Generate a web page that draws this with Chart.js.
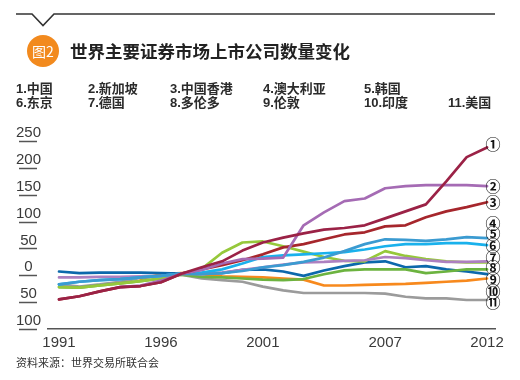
<!DOCTYPE html>
<html><head><meta charset="utf-8">
<script src="https://cdn.jsdelivr.net/npm/chart.js@4.4.1/dist/chart.umd.min.js"></script>
<style>
html,body{margin:0;padding:0;background:#fff;}
#wrap{position:relative;width:520px;height:380px;overflow:hidden;font-family:"Liberation Sans","Noto Sans CJK SC",sans-serif;}
canvas{position:absolute;left:0;top:0;}
.t{position:absolute;white-space:nowrap;}
.lg{font-weight:bold;font-size:13px;color:#2b2b2b;line-height:14px;}
</style></head><body>
<div id="wrap">
<canvas id="c" width="520" height="380"></canvas>
<svg class="t" style="left:0;top:0" width="520" height="40"><polyline points="16,14 32,14 43,25.5 54,14 495,14" fill="none" stroke="#333" stroke-width="1.6"/></svg>
<div class="t" style="left:27px;top:35px;width:32px;height:32px;border-radius:50%;background:#f28a1e;color:#fff;font-size:14px;line-height:32px;text-align:center;font-family:'Noto Sans CJK SC',sans-serif;">图2</div>
<div class="t" style="left:70px;top:40px;font-size:17.5px;line-height:22px;font-weight:bold;color:#222;font-family:'Noto Sans CJK SC',sans-serif;">世界主要证券市场上市公司数量变化</div>
<div id="legend"></div>
<div class="t" style="left:16px;top:355px;font-size:11px;line-height:14px;color:#333;font-family:'Noto Sans CJK SC',sans-serif;">资料来源：世界交易所联合会</div>
</div>
<script>
const years = [1991,1992,1993,1994,1995,1996,1997,1998,1999,2000,2001,2002,2003,2004,2005,2006,2007,2008,2009,2010,2011,2012];
const xTickYears = [1991,1996,2001,2007,2012];
const seriesNames = ["中国","新加坡","中国香港","澳大利亚","韩国","东京","德国","多伦多","伦敦","印度","美国"];

const crimson     = [-45,-39,-30,-22,-20,-13,3,15,26,46,61,70,78,85,88,93,106,119,132,175,220,238];
const violet      = [null,null,null,-22,-19,-10,3,10,22,30,31,33,93,117,138,143,162,166,168,168,168,166];
const darkRed     = [-45,-39,-30,-22,-20,-13,3,11,19,28,39,52,58,67,76,80,91,93,108,119,127,136];
const blueTeal    = [-17,-12,-9,-7,-4,-1,3,2,4,8,15,19,25,33,45,58,67,66,64,67,71,69];
const cyan        = [-17,-12,-9,-7,-4,-1,3,5,11,22,34,37,39,41,43,48,54,58,58,60,60,56];
const lightPurple = [-4,-4,-3,-3,-2,-1,3,2,5,10,15,20,24,25,27,28,34,32,28,25,25,26];
const yellowGreen = [-22,-23,-19,-15,-11,-6,3,12,42,61,63,54,44,34,27,26,45,36,30,26,24,24];
const green       = [-22,-23,-19,-15,-11,-6,1,-3,-4,-6,-8,-9,-7,2,9,11,11,11,4,7,11,11];
const darkBlue    = [7,4,5,5,5,4,3,4,4,10,11,7,-1,9,17,24,26,15,17,11,7,2];
const orange      = [null,null,null,null,-7,2,4,2,-2,-3,-4,-6,-8,-19,-19,-18,-17,-16,-14,-12,-10,-6];
const gray        = [-17,-21,-17,-12,-5,-1,1,-6,-9,-12,-21,-28,-33,-33,-33,-33,-34,-40,-43,-43,-46,-46];

const endMarks = ["①","②","③","④","⑤","⑥","⑦","⑧","⑨","⑩","⑪"];
const endMarkValues = [244,166,136,97,78,56,34,14,-7,-30,-50];

const seriesList = [
  {name:seriesNames[0], data:crimson, color:'#9b2246'},
  {name:seriesNames[1], data:violet, color:'#a56bb4'},
  {name:seriesNames[2], data:darkRed, color:'#a6262c'},
  {name:seriesNames[3], data:blueTeal, color:'#3b9bd1'},
  {name:seriesNames[4], data:cyan, color:'#19b1ec'},
  {name:seriesNames[5], data:lightPurple, color:'#ad80c0'},
  {name:seriesNames[6], data:yellowGreen, color:'#96c83b'},
  {name:seriesNames[7], data:green, color:'#6cb33f'},
  {name:seriesNames[8], data:darkBlue, color:'#0c68ab'},
  {name:seriesNames[9], data:orange, color:'#f7891d'},
  {name:seriesNames[10], data:gray, color:'#9b9b9b'}
];

// HTML legend list
const colX = [16,88,170,263,364,448];
const lg = document.getElementById('legend');
seriesNames.forEach((n,i)=>{
  const d = document.createElement('div');
  d.className = 't lg';
  const row = i < 5 ? 0 : 1;
  const col = i < 5 ? i : i - 5;
  d.style.left = colX[col] + 'px';
  d.style.top = (row === 0 ? 82 : 96) + 'px';
  d.textContent = (i+1) + '.' + n;
  lg.appendChild(d);
});

const decor = {
  id:'decor',
  afterDraw(chart){
    const ctx = chart.ctx, ys = chart.scales.y;
    ctx.save();
    ctx.strokeStyle = '#555'; ctx.lineWidth = 1.5;
    ys.ticks.forEach(t=>{
      const py = Math.round(ys.getPixelForValue(t.value)) + 0.5;
      ctx.beginPath(); ctx.moveTo(19, py); ctx.lineTo(37, py); ctx.stroke();
    });
    ctx.fillStyle = '#111';
    ctx.font = 'bold 15px "Noto Sans CJK SC"';
    ctx.textAlign = 'center'; ctx.textBaseline = 'middle';
    endMarks.forEach((m,i)=>{
      ctx.fillText(m, 493, ys.getPixelForValue(endMarkValues[i]));
    });
    ctx.restore();
  }
};

const tickFont = {family:'"Liberation Sans", Arial, sans-serif', size:15};
new Chart(document.getElementById('c'), {
  type:'line',
  data:{
    labels: years,
    datasets: seriesList.map(s=>({label:s.name, data:s.data, borderColor:s.color, backgroundColor:s.color, fill:false}))
  },
  options:{
    responsive:false, animation:false, devicePixelRatio:1,
    layout:{padding:{left:0,right:25,top:141,bottom:0}},
    plugins:{legend:{display:false}, tooltip:{enabled:false}},
    elements:{point:{radius:0}, line:{borderWidth:2.7, tension:0, borderCapStyle:'round', borderJoinStyle:'round'}},
    scales:{
      x:{
        type:'linear', min:1990.46, max:2012.39,
        grid:{display:false, drawTicks:false},
        border:{display:true, color:'#555', width:1.6},
        afterBuildTicks: s=>{ s.ticks = xTickYears.map(v=>({value:v})); },
        ticks:{callback:v=>String(v), font:tickFont, color:'#3a3a3a', padding:5, maxRotation:0, autoSkip:false},
        afterFit: s=>{ s.height = 51; s.paddingLeft = 0; s.paddingRight = 0; }
      },
      y:{
        min:-100, max:250,
        grid:{display:false, drawTicks:false},
        border:{display:false},
        ticks:{stepSize:50, callback:v=>String(Math.abs(v)), crossAlign:'center', padding:7, labelOffset:-8, font:tickFont, color:'#3a3a3a'},
        afterFit: s=>{ s.width = 48; s.paddingTop = 0; s.paddingBottom = 0; }
      }
    }
  },
  plugins:[decor]
});
</script>
</body></html>
